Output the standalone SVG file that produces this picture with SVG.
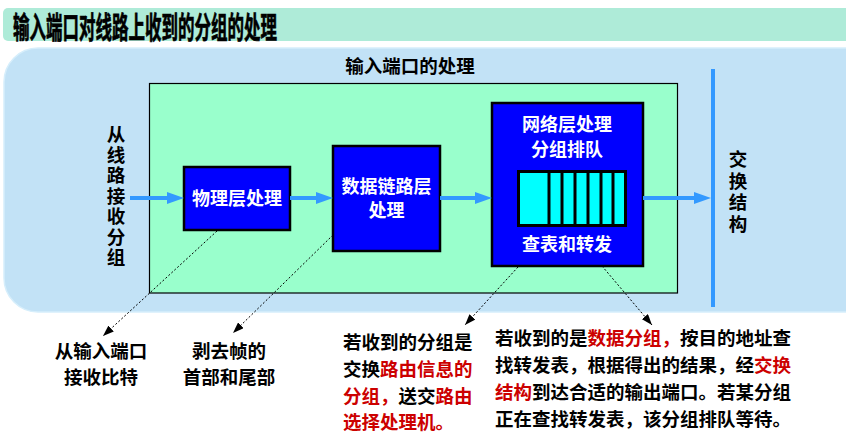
<svg xmlns="http://www.w3.org/2000/svg" width="846" height="444" viewBox="0 0 846 444">
<style>
text{font-family:"Noto Sans CJK SC","Liberation Sans",sans-serif;font-weight:bold}
.w{fill:#FFFFFF;font-size:18px;text-anchor:middle}
.k{fill:#000000;font-size:18.5px}
.c{text-anchor:middle}
.r{fill:#CC0000}
.v{writing-mode:vertical-rl;text-anchor:start}
.box{fill:#0000FF;stroke:#000000;stroke-width:2.5}
.flow{stroke:#3399FF;stroke-width:4;fill:none}
.dot{stroke:#000000;stroke-width:1;stroke-dasharray:2,2;fill:none}
</style>
<defs>
<marker id="ba" markerUnits="userSpaceOnUse" markerWidth="17" markerHeight="12" refX="3" refY="6" orient="auto">
<path d="M0,0 L17,6 L0,12 Z" fill="#3399FF"/>
</marker>
<marker id="ka" markerUnits="userSpaceOnUse" markerWidth="11" markerHeight="8" refX="11" refY="4" orient="auto">
<path d="M0,0 L11,4 L0,8 Z" fill="#000000"/>
</marker>
</defs>
<rect width="846" height="444" fill="#FFFFFF"/>
<g id="title">
<rect x="3" y="8" width="850" height="33" rx="5" fill="#AEEBD8"/>
<text x="13" y="38" font-size="30" textLength="264" lengthAdjust="spacingAndGlyphs" fill="#000000" stroke="#000000" stroke-width="0.7">输入端口对线路上收到的分组的处理</text>
</g>
<g id="port-panel">
<rect x="4" y="48" width="880" height="264" rx="34" fill="#C2E2F6" stroke="#D6EEFB" stroke-width="1.5"/>
<rect x="149.5" y="83.5" width="528" height="209.5" fill="#99FFCC" stroke="#000000" stroke-width="1.2"/>
<text class="k c" x="410" y="73">输入端口的处理</text>
</g>
<g id="input-label">
<text class="k v" x="116" y="125" font-size="18" letter-spacing="2">从线路接收分组</text>
</g>
<g id="phy">
<rect class="box" x="184" y="167" width="106" height="63"/>
<text class="w" x="237" y="205">物理层处理</text>
</g>
<g id="link">
<rect class="box" x="333" y="146" width="107" height="105"/>
<text class="w" x="386.5" y="193">数据链路层</text>
<text class="w" x="386.5" y="217">处理</text>
</g>
<g id="net">
<rect class="box" x="492" y="103" width="151" height="163"/>
<text class="w" x="567" y="131">网络层处理</text>
<text class="w" x="567" y="155.5">分组排队</text>
<rect x="518.5" y="171.5" width="107" height="54" fill="#00FFFF" stroke="#000000" stroke-width="3"/>
<g stroke="#000000" stroke-width="3">
<line x1="549" y1="171" x2="549" y2="226"/>
<line x1="562" y1="171" x2="562" y2="226"/>
<line x1="575" y1="171" x2="575" y2="226"/>
<line x1="588" y1="171" x2="588" y2="226"/>
<line x1="601" y1="171" x2="601" y2="226"/>
<line x1="613" y1="171" x2="613" y2="226"/>
</g>
<text class="w" x="567" y="251">查表和转发</text>
</g>
<g id="fabric">
<line x1="713" y1="69" x2="713" y2="307" stroke="#3399FF" stroke-width="4"/>
<text class="k v" x="738" y="150" font-size="19" letter-spacing="3">交换结构</text>
</g>
<g id="connectors">
<line class="flow" x1="130" y1="198" x2="170" y2="198" marker-end="url(#ba)"/>
<line class="flow" x1="290" y1="198" x2="319" y2="198" marker-end="url(#ba)"/>
<line class="flow" x1="440" y1="198" x2="478" y2="198" marker-end="url(#ba)"/>
<line class="flow" x1="643" y1="198" x2="697" y2="198" marker-end="url(#ba)"/>
<line class="dot" x1="217" y1="231" x2="103" y2="336" marker-end="url(#ka)"/>
<line class="dot" x1="333" y1="235" x2="233" y2="333" marker-end="url(#ka)"/>
<line class="dot" x1="518" y1="267" x2="465" y2="325" marker-end="url(#ka)"/>
<line class="dot" x1="602" y1="266" x2="652" y2="325" marker-end="url(#ka)"/>
</g>
<g id="note-bits">
<text class="k c" x="101" y="358">从输入端口</text>
<text class="k c" x="101" y="384">接收比特</text>
</g>
<g id="note-frame">
<text class="k c" x="229" y="358">剥去帧的</text>
<text class="k c" x="229" y="384">首部和尾部</text>
</g>
<g id="note-route">
<text class="k" x="343" y="349">若收到的分组是</text>
<text class="k" x="343" y="376">交换<tspan class="r">路由信息的</tspan></text>
<text class="k" x="343" y="403"><tspan class="r">分组，</tspan>送交<tspan class="r">路由</tspan></text>
<text class="k r" x="343" y="429">选择处理机。</text>
</g>
<g id="note-data">
<text class="k" x="495" y="345">若收到的是<tspan class="r">数据分组，</tspan>按目的地址查</text>
<text class="k" x="495" y="372">找转发表，根据得出的结果，经<tspan class="r">交换</tspan></text>
<text class="k" x="495" y="399"><tspan class="r">结构</tspan>到达合适的输出端口。若某分组</text>
<text class="k" x="495" y="426">正在查找转发表，该分组排队等待。</text>
</g>
</svg>
